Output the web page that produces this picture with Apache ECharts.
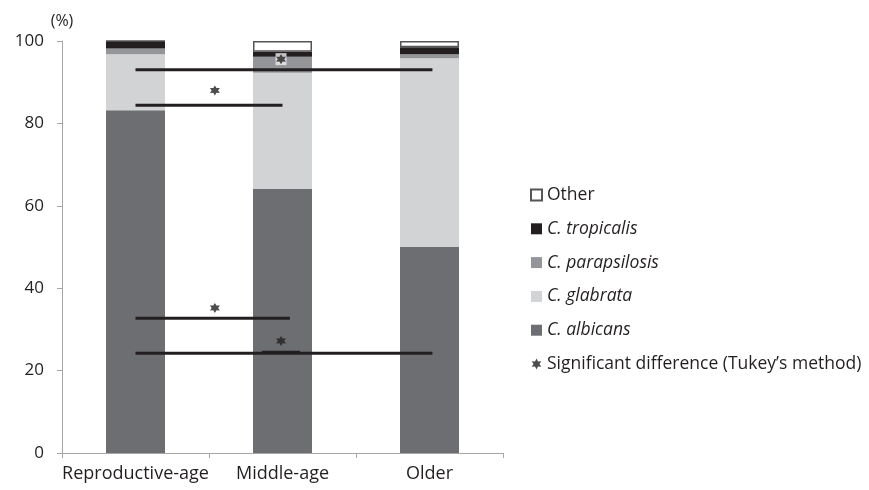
<!DOCTYPE html>
<html>
<head>
<meta charset="utf-8">
<script src="https://cdn.jsdelivr.net/npm/echarts@6/dist/echarts.min.js"></script>
<style>html,body{margin:0;padding:0;background:#fff}#c{width:869px;height:490px}</style>
</head>
<body>
<div id="c"></div>
<script>
// ---- data ----
const categories = ['Reproductive-age', 'Middle-age', 'Older'];
const albicans = [83.2, 64.1, 50.0];
const glabrata = [13.6, 28.2, 45.8];
const parapsilosis = [1.4, 3.9, 1.0];
const tropicalis = [1.8, 1.2, 1.7];
const other = [0.0, 2.6, 1.5];
const yTicks = [0, 20, 40, 60, 80, 100];
// significance bars (x in category-index units, y in %)
const sigFrom = [0, 0, 0, 0, 0.86];
const sigTo = [2.02, 1.0, 1.05, 2.02, 1.12];
const sigY = [93.0, 84.4, 32.7, 24.2, 24.6];
const sigW = [3, 3, 3, 3, 2];
// asterisks
const starX = [0.54, 0.54, 0.99, 0.99];
const starY = [88.0, 35.2, 27.2, 95.6];
const boxedStar = [false, false, false, true];

const txt = '#231f20';
const font = 'Open Sans';
const fs = 18;
const lfs = 17.5;
const starPath = 'path://M10 0L12.75 5.24L18.66 5L15.5 10L18.66 15L12.75 14.76L10 20L7.25 14.76L1.34 15L4.5 10L1.34 5L7.25 5.24Z';

const chart = echarts.init(document.getElementById('c'), null, {renderer: 'canvas'});

function bar(name, data, color, extra) {
  return Object.assign({
    name: name, type: 'bar', stack: 'all', data: data, barWidth: 59,
    itemStyle: {color: color}, emphasis: {disabled: true}
  }, extra || {});
}

const lineData = sigY.map((y, i) => [sigFrom[i], sigTo[i], y, sigW[i]]);

const option = {
  animation: false,
  textStyle: {fontFamily: font, color: txt},
  grid: {left: 62, right: 366, top: 41, bottom: 37},
  xAxis: [
    {
      type: 'category', data: categories,
      axisLine: {lineStyle: {color: '#a6a6a6'}},
      axisTick: {show: true, length: 5, lineStyle: {color: '#a6a6a6'}},
      axisLabel: {color: txt, fontSize: fs, fontFamily: font, margin: 12, interval: 0}
    },
    {type: 'value', min: -0.5, max: 2.5, show: false}
  ],
  yAxis: {
    type: 'value', min: yTicks[0], max: yTicks[yTicks.length - 1], interval: 20,
    name: '(%)', nameLocation: 'end', nameGap: 12,
    nameTextStyle: {color: txt, fontSize: 16, fontFamily: font},
    axisLine: {show: true, onZero: false, lineStyle: {color: '#a6a6a6'}},
    axisTick: {show: true, length: 5, lineStyle: {color: '#a6a6a6'}},
    splitLine: {show: false},
    axisLabel: {color: txt, fontSize: 17, fontFamily: font, margin: 18}
  },
  legend: {
    orient: 'vertical', left: 525, top: 181, padding: 5,
    itemWidth: 11, itemHeight: 11, itemGap: 15.8,
    selectedMode: false,
    textStyle: {
      color: txt, fontSize: lfs, fontFamily: font,
      rich: {i: {fontStyle: 'italic', fontSize: lfs, fontFamily: font, color: txt}}
    },
    formatter: function (n) { return n.indexOf('C. ') === 0 ? '{i|' + n + '}' : n; },
    data: [
      {name: 'Other', icon: 'rect'},
      {name: 'C. tropicalis', icon: 'rect'},
      {name: 'C. parapsilosis', icon: 'rect'},
      {name: 'C. glabrata', icon: 'rect'},
      {name: 'C. albicans', icon: 'rect'},
      {name: 'Significant difference (Tukey\u2019s method)', icon: starPath}]
  },
  series: [
    bar('C. albicans', albicans, '#6d6e71'),
    bar('C. glabrata', glabrata, '#d1d3d4'),
    bar('C. parapsilosis', parapsilosis, '#939598'),
    bar('C. tropicalis', tropicalis, '#231f20'),
    bar('Other', other, '#ffffff', {itemStyle: {color: '#ffffff', borderColor: '#555555', borderWidth: 1.5}}),
    {
      type: 'custom', xAxisIndex: 1, data: lineData, silent: true, z: 5,
      renderItem: function (params, api) {
        const p1 = api.coord([api.value(0), api.value(2)]);
        const p2 = api.coord([api.value(1), api.value(2)]);
        return {type: 'line', shape: {x1: p1[0], y1: p1[1], x2: p2[0], y2: p2[1]},
          style: {stroke: '#231f20', lineWidth: api.value(3)}};
      }
    },
    {
      type: 'scatter', xAxisIndex: 1, silent: true, z: 6,
      symbol: 'rect', symbolSize: [11, 12],
      itemStyle: {color: '#eeeeee'},
      data: starX.map((x, i) => [x, starY[i]]).filter((d, i) => boxedStar[i])
    },
    {
      name: 'Significant difference (Tukey\u2019s method)',
      type: 'scatter', xAxisIndex: 1, silent: true, z: 7,
      symbol: starPath, symbolSize: 10,
      itemStyle: {color: '#231f20'},
      data: starX.map((x, i) => [x, starY[i]])
    }
  ]
};
chart.setOption(option);
</script>
</body>
</html>
